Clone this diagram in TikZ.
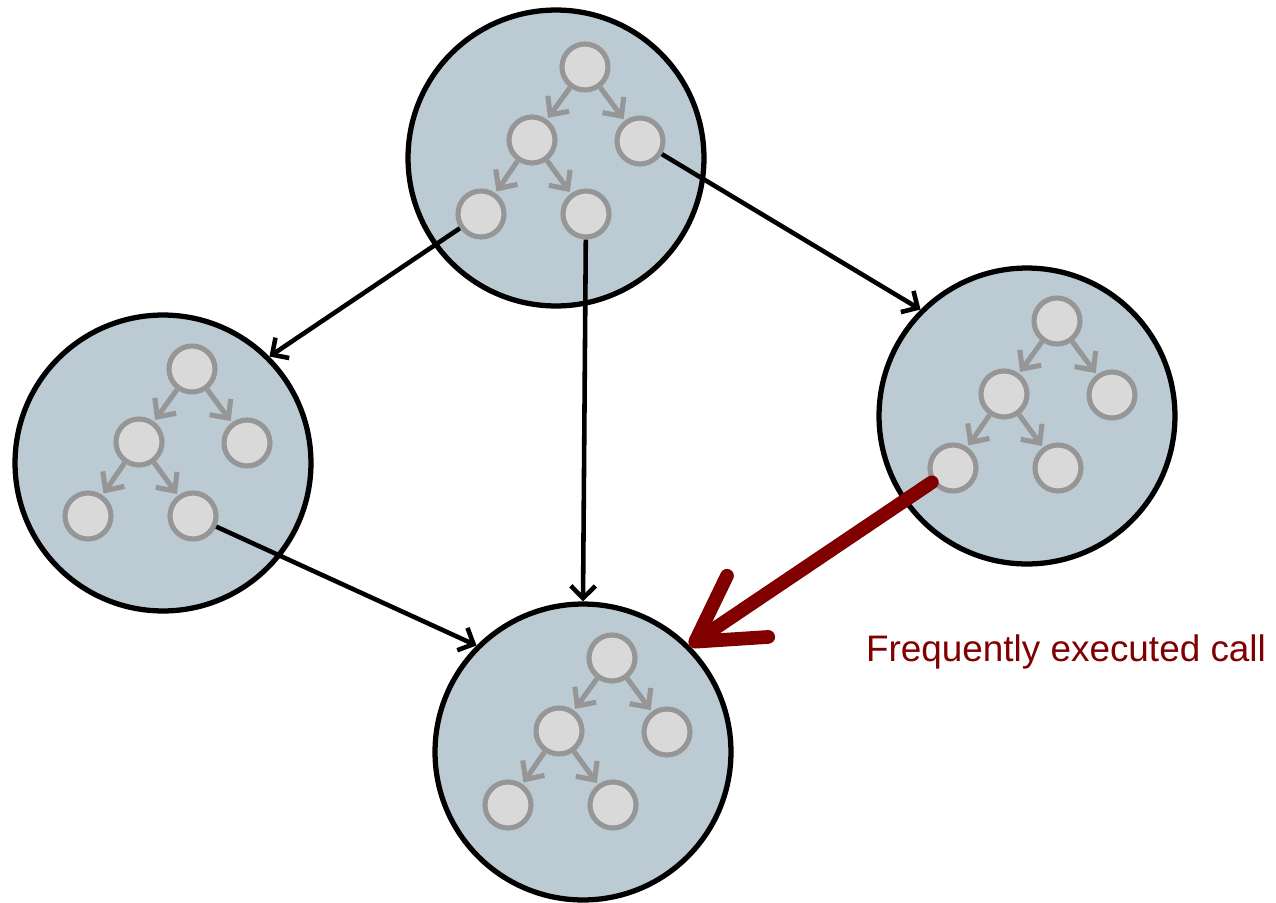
\documentclass[tikz,border=0pt]{standalone}
\usepackage{fontspec}
\setmainfont{Liberation Sans}
\usetikzlibrary{arrows.meta}

\definecolor{modfill}{HTML}{BCCBD3}
\definecolor{fnfill}{HTML}{D9D9D9}
\definecolor{fnline}{HTML}{969696}
\definecolor{hotred}{HTML}{800000}

\begin{document}
\begin{tikzpicture}[x=0.02cm,y=-0.02cm]
    % call graph between modules
    % - each module holds a small call tree
    % - one hot call is highlighted
    \tikzset{module/.style = {shape=circle,draw,fill=modfill,line width=3pt,minimum size=5.92cm,inner sep=0pt}}
    \tikzset{fn/.style = {shape=circle,draw=fnline,fill=fnfill,line width=2.9pt,minimum size=0.92cm,inner sep=0pt}}
    \tikzset{sub/.style = {draw=fnline,line width=2.9pt,shorten >=1pt,-{Straight Barb[length=8pt,width=15pt]}}}
    \tikzset{call/.style = {draw,line width=2.6pt,-{Straight Barb[length=7pt,width=14pt]}}}
    \tikzset{hot/.style = {draw=hotred,line width=7.8pt,line cap=round,-{Straight Barb[length=36pt,width=42pt,round]}}}

    \useasboundingbox (0,0) rectangle (1276,903);

    % modules
    \node[module] (mtop)   at (556,158)  {};
    \node[module] (mleft)  at (163,463)  {};
    \node[module] (mright) at (1027,416) {};
    \node[module] (mbot)   at (583,752)  {};

    % call trees inside the modules
    \foreach \m/\x/\y in {t/585/67, l/192/369, r/1057/321, b/612/658} {
        \node[fn] (\m1) at (\x,\y) {};
        \node[fn] (\m2) at ([shift={(-53,73)}]\m1) {};
        \node[fn] (\m3) at ([shift={(55,74)}]\m1) {};
        \node[fn] (\m4) at ([shift={(-104,147)}]\m1) {};
        \node[fn] (\m5) at ([shift={(1,147)}]\m1) {};
        \draw[sub] (\m1) -- (\m2);
        \draw[sub] (\m1) -- (\m3);
        \draw[sub] (\m2) -- (\m4);
        \draw[sub] (\m2) -- (\m5);
    }

    % calls between modules
    \draw[call] (t4) -- (mleft.45);
    \draw[call] (t5) -- (mbot.north);
    \draw[call] (t3) -- (mright.135);
    \draw[call] (l5) -- (mbot.135);

    % hot call
    \draw[hot] (r4) -- (mbot.45);
    \node[text=hotred,font=\fontsize{21}{25}\selectfont] (hotlabel) at (1066,652) {Frequently executed call};
\end{tikzpicture}
\end{document}
